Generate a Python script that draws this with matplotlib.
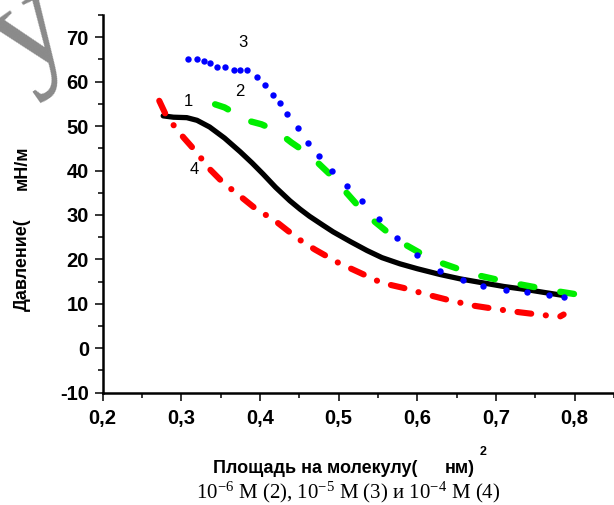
import matplotlib
matplotlib.use("Agg")
import matplotlib.pyplot as plt
from matplotlib.ticker import MultipleLocator, FuncFormatter

# ---- data ----
x1 = [0.277, 0.29, 0.307, 0.32, 0.336, 0.355, 0.375, 0.39, 0.404, 0.42, 0.438, 0.451, 0.463,
      0.48, 0.493, 0.515, 0.536, 0.555, 0.578, 0.60, 0.629, 0.655, 0.684, 0.71, 0.739, 0.76, 0.785]
y1 = [52.3, 52.0, 51.9, 51.3, 49.8, 47.3, 44.2, 41.7, 39.2, 36.2, 33.2, 31.3, 29.7,
      27.7, 26.2, 24.0, 22.0, 20.4, 19.0, 17.9, 16.6, 15.6, 14.7, 13.9, 13.2, 12.6, 11.9]

x2 = [0.343, 0.355, 0.370, 0.385, 0.402, 0.421, 0.440, 0.459, 0.475, 0.491, 0.507, 0.523,
      0.541, 0.561, 0.583, 0.607, 0.632, 0.658, 0.68, 0.705, 0.73, 0.754, 0.775, 0.8]
y2 = [54.9, 54.2, 52.7, 51.2, 50.4, 48.9, 46.3, 44.0, 41.5, 38.8, 35.6, 32.4,
      29.2, 26.3, 23.5, 21.1, 19.1, 17.5, 16.3, 15.3, 14.4, 13.6, 12.9, 12.2]

x3 = [0.309, 0.320, 0.329, 0.336, 0.345, 0.356, 0.367, 0.375, 0.384, 0.396, 0.407, 0.417,
      0.425, 0.434, 0.448, 0.461, 0.475, 0.491, 0.511, 0.530, 0.551, 0.574, 0.599, 0.629,
      0.658, 0.684, 0.713, 0.740, 0.768, 0.787]
y3 = [65.0, 65.1, 64.7, 64.3, 63.2, 63.2, 62.7, 62.7, 62.7, 61.0, 59.3, 57.0,
      55.3, 52.7, 49.5, 46.1, 43.3, 39.9, 36.5, 33.1, 29.1, 24.9, 20.9, 17.5,
      15.4, 14.1, 13.2, 12.6, 11.9, 11.5]

x4 = [0.272, 0.281, 0.292, 0.303, 0.320, 0.334, 0.353, 0.375, 0.396, 0.417, 0.435, 0.453,
      0.470, 0.500, 0.527, 0.555, 0.582, 0.612, 0.641, 0.671, 0.701, 0.730, 0.758, 0.781, 0.786]
y4 = [55.7, 52.3, 49.8, 47.4, 44.0, 40.7, 37.3, 34.2, 31.2, 29.0, 26.5, 24.1,
      22.2, 19.2, 17.0, 14.7, 13.6, 12.1, 10.8, 9.6, 8.8, 8.1, 7.5, 7.1, 7.6]

curve_labels = ["1", "2", "3", "4"]
label_pos = [(0.3085, 55.5), (0.375, 57.7), (0.378, 68.9), (0.317, 40.3)]

ylabel_a = "Давление("
ylabel_b = "мН/м"
xlabel_a = "Площадь на молекулу("
xlabel_b = "нм)"
caption = r"10$^{-6}$ М (2), 10$^{-5}$ М (3) и 10$^{-4}$ М (4)"

# ---- style ----
plt.rcParams["font.family"] = ["Liberation Sans", "DejaVu Sans"]
plt.rcParams["axes.unicode_minus"] = False
plt.rcParams["lines.scale_dashes"] = False
plt.rcParams["mathtext.fontset"] = "custom"
plt.rcParams["mathtext.rm"] = "Liberation Serif"
plt.rcParams["mathtext.it"] = "Liberation Serif:italic"

W, H = 614, 505
fig = plt.figure(figsize=(W / 100, H / 100), dpi=100)
ax = fig.add_axes([102.6 / W, 112.3 / H, (W - 102.6) / W, (392.7 - 15) / H])

# watermark fragment (large grey serif letter, partly outside the canvas)
fig.text(50 / W, 1 - 60 / H, "y", fontsize=100, family="Liberation Serif",
         color="#8a8a8a", rotation=35, rotation_mode="anchor",
         ha="center", va="baseline", zorder=0)

ax.plot(x1, y1, color="black", lw=3.8, solid_capstyle="round",
        solid_joinstyle="round", zorder=2)
ax.plot(x2, y2, color="#00ee00", lw=4.6, linestyle=(0, (10, 19)),
        dash_capstyle="round", zorder=3)
ax.plot(x3, y3, linestyle="none", marker="o", markersize=4.6, color="#0000ff",
        markeredgewidth=0, zorder=4)
ax.plot(x4, y4, color="#ff0000", lw=4.4, linestyle=(0, (10, 10.5, 0.1, 10.5)),
        dash_capstyle="round", zorder=5)

for lab, (lx, ly) in zip(curve_labels, label_pos):
    ax.text(lx, ly, lab, fontsize=12, ha="center", va="center", color="black")

ax.set_xlim(0.2, 0.85)
ax.set_ylim(-10, 75)
ax.xaxis.set_major_locator(MultipleLocator(0.1))
ax.xaxis.set_minor_locator(MultipleLocator(0.05))
ax.yaxis.set_major_locator(MultipleLocator(10))
ax.yaxis.set_minor_locator(MultipleLocator(5))
ax.xaxis.set_major_formatter(FuncFormatter(lambda v, p: f"{v:.1f}".replace(".", ",")))
ax.yaxis.set_major_formatter(FuncFormatter(lambda v, p: f"{v:.0f}"))

for s in ["top", "right"]:
    ax.spines[s].set_visible(False)
for s in ["left", "bottom"]:
    ax.spines[s].set_linewidth(1.8)
ax.tick_params(which="major", direction="out", length=5.8, width=1.1, labelsize=14.5, pad=4)
ax.tick_params(which="minor", direction="out", length=3.4, width=1.1)
for t in ax.get_xticklabels() + ax.get_yticklabels():
    t.set_fontweight("bold")
ax.tick_params(axis="x", which="major", pad=6)

# axis labels
fig.text(22 / W, 1 - 311 / H, ylabel_a, rotation=90, fontsize=13, fontweight="bold",
         ha="center", va="bottom")
fig.text(22 / W, 1 - 145 / H, ylabel_b, rotation=90, fontsize=13, fontweight="bold",
         ha="center", va="top")
fig.text(213 / W, 1 - 473 / H, xlabel_a, fontsize=13, fontweight="bold",
         ha="left", va="baseline")
fig.text(445 / W, 1 - 473 / H, xlabel_b, fontsize=13, fontweight="bold",
         ha="left", va="baseline")
fig.text(480 / W, 1 - 455 / H, "2", fontsize=9, fontweight="bold",
         ha="left", va="baseline")
fig.text(348 / W, 0.3 / H, caption, fontsize=15, family="Liberation Serif",
         ha="center", va="bottom")

fig.savefig("out.png", dpi=100)
